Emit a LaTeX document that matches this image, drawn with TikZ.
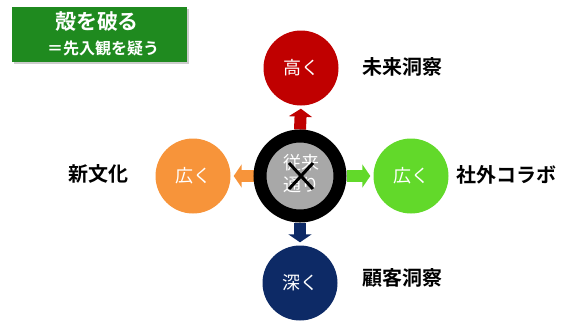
\documentclass[tikz,border=0pt]{standalone}
\usepackage{fontspec}
\newfontfamily\jp{Noto Sans CJK JP}
\newfontfamily\jpb{Noto Sans CJK JP Bold}
\usetikzlibrary{arrows.meta,backgrounds}
\definecolor{cred}{HTML}{C00000}
\definecolor{cnavy}{HTML}{0D2A66}
\definecolor{corange}{HTML}{F7943A}
\definecolor{cgreen}{HTML}{62D92A}
\definecolor{cbox}{HTML}{1F8A1F}
\definecolor{cgray}{HTML}{A8A8A8}
\tikzset{
  bubble/.style={circle, minimum size=75pt, inner sep=0pt, text=white, font=\jp\fontsize{18}{18}\selectfont},
  label/.style={font=\jpb\fontsize{20}{20}\selectfont, text=black, inner sep=0pt, anchor=west},
  blockarrow/.style={line width=12pt, -{Triangle[width=23pt,length=8pt]}, shorten >=3pt}
}
\begin{document}
\begin{tikzpicture}[x=1pt,y=-1pt]
\useasboundingbox (0,0) rectangle (584,322);
% title box
\node[fill=gray!40, minimum width=175pt, minimum height=55pt, inner sep=0pt] at (101.5,36.5) {};
\node[fill=cbox, minimum width=175pt, minimum height=55pt, inner sep=0pt] (title) at (99.5,34.5) {};
\node[text=white, font=\jpb\fontsize{21}{21}\selectfont, inner sep=0pt] (t1) at (97,22) {殻を破る};
\node[text=white, font=\jpb\fontsize{16}{16}\selectfont, inner sep=0pt] (t2) at (103,48) {＝先入観を疑う};
% center
\node[circle, minimum size=80pt, inner sep=0pt, fill=cgray, draw=black, line width=13pt] (c) at (300,176) {};
\node[text=white, font=\jp\fontsize{18}{22}\selectfont, align=center, inner sep=0pt] (ct) at (301,174) {従来\\通り};
\draw[line width=3pt] (289,163) -- (313,189) (313,163) -- (289,189);
% bubbles
\node[bubble, fill=cred] (top) at (301,68) {高く};
\node[bubble, fill=cnavy] (bot) at (300,283) {深く};
\node[bubble, fill=corange] (lft) at (193,176) {広く};
\node[bubble, fill=cgreen] (rgt) at (411,176) {広く};
\begin{scope}[on background layer]
\draw[blockarrow, cred] (c.north) -- (top.south);
\draw[blockarrow, cnavy] (c.south) -- (bot.north);
\draw[blockarrow, corange] (c.west) -- (lft.east);
\draw[blockarrow, cgreen] (c.east) -- (rgt.west);
\end{scope}
% labels
\node[label] (l1) at (362,67) {未来洞察};
\node[label] (l2) at (68,174) {新文化};
\node[label] (l3) at (456,175) {社外コラボ};
\node[label] (l4) at (362,278) {顧客洞察};
\end{tikzpicture}
\end{document}
